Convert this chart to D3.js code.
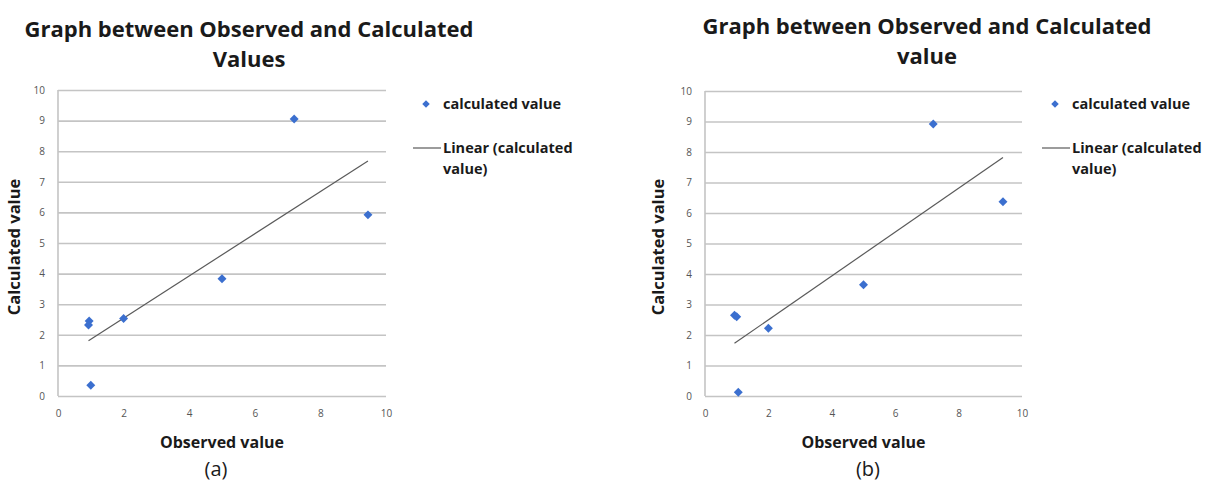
<!DOCTYPE html>
<html>
<head>
<meta charset="utf-8">
<script src="https://cdn.jsdelivr.net/npm/d3@7"></script>
<style>
  body { margin: 0; background: #fff; }
  svg { display: block; }
  text { font-family: "Open Sans", Lato, sans-serif; }
</style>
</head>
<body>
<script>
var width = 1205,
	height = 482;

// panel (a)
var observedA = [0.95, 0.93, 2.0, 5.0, 7.2, 9.45, 1.0],
	calculatedA = [2.45, 2.32, 2.53, 3.83, 9.05, 5.92, 0.35];
// panel (b)
var observedB = [0.93, 1.0, 2.0, 5.0, 7.2, 9.4, 1.05],
	calculatedB = [2.65, 2.6, 2.22, 3.65, 8.92, 6.37, 0.12];

var xTicks = [0, 2, 4, 6, 8, 10],
	yTicks = [0, 1, 2, 3, 4, 5, 6, 7, 8, 9, 10];

var titlesA = ["Graph between Observed and Calculated", "Values"],
	titlesB = ["Graph between Observed and Calculated", "value"],
	xLabel = "Observed value",
	yLabel = "Calculated value",
	legendPoint = "calculated value",
	legendLine = ["Linear (calculated", "value)"];

var blue = "#3b6fcf",
	grid = "#c4c4c4";

var svg = d3.select("body").append("svg")
	.attr("width", width)
	.attr("height", height);

function fit(xs, ys) {
	var mx = d3.mean(xs), my = d3.mean(ys), sxy = 0, sxx = 0;
	xs.forEach(function(x, i) { sxy += (x - mx) * (ys[i] - my); sxx += (x - mx) * (x - mx); });
	var m = sxy / sxx;
	return {m: m, b: my - m * mx};
}

// excel style marker: a square turned 45 degrees
var marker = d3.symbol().type(d3.symbolSquare).size(40);

function panel(p) {
	var g = svg.append("g");
	var x = d3.scaleLinear().domain([0, 10]).range(p.xr),
		y = d3.scaleLinear().domain([0, 10]).range(p.yr);

	// gridlines
	g.append("g")
		.attr("transform", "translate(" + p.xr[0] + ",0)")
		.call(d3.axisLeft(y).tickValues(yTicks).tickSize(-(p.xr[1] - p.xr[0])).tickFormat(""))
		.call(function(s) {
			s.select(".domain").remove();
			s.selectAll("line").attr("stroke", grid).attr("stroke-width", 1.6);
		});
	// left axis line
	g.append("line")
		.attr("x1", p.xr[0]).attr("x2", p.xr[0])
		.attr("y1", p.yr[0]).attr("y2", p.yr[1])
		.attr("stroke", grid).attr("stroke-width", 1.6);

	// y tick labels
	g.append("g")
		.attr("transform", "translate(" + p.xr[0] + ",0)")
		.call(d3.axisLeft(y).tickValues(yTicks).tickSize(0).tickPadding(13))
		.call(function(s) {
			s.select(".domain").remove();
			s.selectAll("text").attr("fill", "#555").style("font-size", "10px").style("font-family", "Open Sans");
		});
	// x tick labels
	g.append("g")
		.attr("transform", "translate(0," + p.yr[0] + ")")
		.call(d3.axisBottom(x).tickValues(xTicks).tickSize(0).tickPadding(14))
		.call(function(s) {
			s.select(".domain").remove();
			s.selectAll("text").attr("fill", "#555").style("font-size", "10px").style("font-family", "Open Sans");
		});

	// trendline
	var f = fit(p.xs, p.ys),
		x0 = d3.min(p.xs), x1 = d3.max(p.xs);
	g.append("path")
		.datum([x0, x1])
		.attr("d", d3.line().x(function(d) { return x(d); }).y(function(d) { return y(f.m * d + f.b); }))
		.attr("fill", "none")
		.attr("stroke", "#5a5a5a")
		.attr("stroke-width", 1.2);

	// points
	g.selectAll(".pt")
		.data(p.xs.map(function(v, i) { return [v, p.ys[i]]; }))
		.enter().append("path")
		.attr("class", "pt")
		.attr("transform", function(d) { return "translate(" + x(d[0]) + "," + y(d[1]) + ") rotate(45)"; })
		.attr("d", marker)
		.attr("fill", blue);

	// title
	g.selectAll(".title")
		.data(p.titles)
		.enter().append("text")
		.attr("x", p.tx)
		.attr("y", function(d, i) { return p.ty + i * 30; })
		.attr("text-anchor", "middle")
		.attr("font-weight", "bold")
		.attr("font-size", 22)
		.attr("fill", "#1a1a1a")
		.text(function(d) { return d; });

	// axis titles
	g.append("text")
		.attr("x", (p.xr[0] + p.xr[1]) / 2)
		.attr("y", 448)
		.attr("text-anchor", "middle")
		.attr("font-weight", "bold")
		.attr("font-size", 16)
		.attr("fill", "#1a1a1a")
		.text(xLabel);
	g.append("text")
		.attr("transform", "translate(" + p.yx + ",247) rotate(-90)")
		.attr("text-anchor", "middle")
		.attr("font-weight", "bold")
		.attr("font-size", 16.5)
		.attr("fill", "#1a1a1a")
		.text(yLabel);

	// panel tag
	g.append("text")
		.attr("x", p.tagx)
		.attr("y", 476)
		.attr("text-anchor", "middle")
		.attr("font-size", 20)
		.attr("fill", "#1a1a1a")
		.text(p.tag);

	// legend
	var lg = g.append("g").attr("transform", "translate(" + p.lx + ",104)");
	lg.append("path")
		.attr("transform", "translate(-17,0) rotate(45)")
		.attr("d", d3.symbol().type(d3.symbolSquare).size(28))
		.attr("fill", blue);
	lg.append("text")
		.attr("x", 0).attr("y", 5)
		.attr("font-weight", "bold").attr("font-size", 14.5).attr("fill", "#1a1a1a")
		.text(legendPoint);
	lg.append("line")
		.attr("x1", -30).attr("x2", -2)
		.attr("y1", 44).attr("y2", 44)
		.attr("stroke", "#5a5a5a").attr("stroke-width", 1.2);
	lg.selectAll(".ll")
		.data(legendLine)
		.enter().append("text")
		.attr("x", 0)
		.attr("y", function(d, i) { return 49 + i * 21; })
		.attr("font-weight", "bold").attr("font-size", 14.5).attr("fill", "#1a1a1a")
		.text(function(d) { return d; });
}

panel({xs: observedA, ys: calculatedA, xr: [58, 386], yr: [396, 90], titles: titlesA,
	tx: 249, ty: 37, yx: 20, tag: "(a)", tagx: 216, lx: 443});
panel({xs: observedB, ys: calculatedB, xr: [705, 1022], yr: [396, 91], titles: titlesB,
	tx: 927, ty: 34, yx: 664, tag: "(b)", tagx: 868, lx: 1072});
</script>
</body>
</html>
